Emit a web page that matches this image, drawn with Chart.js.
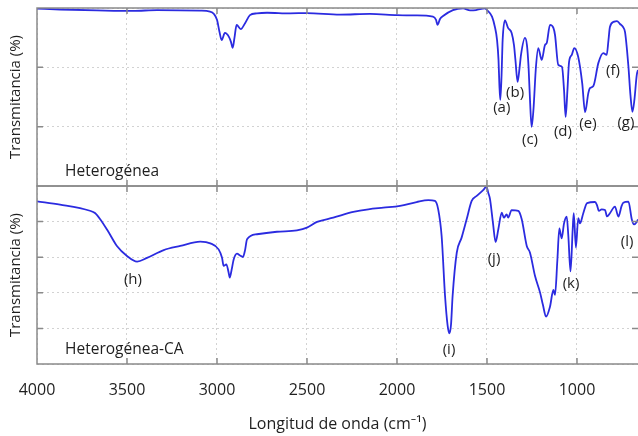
<!DOCTYPE html>
<html>
<head>
<meta charset="utf-8">
<script src="https://cdn.jsdelivr.net/npm/chart.js@4.4.0/dist/chart.umd.min.js"></script>
<style>
  html, body { margin: 0; padding: 0; background: #fff; }
  #wrap { width: 638px; height: 436px; }
</style>
</head>
<body>
<div id="wrap"><canvas id="ftirChart" width="638" height="436"></canvas></div>
<script>
// espectro superior (Heterogénea)
const wnTop = [4000, 3872, 3667, 3467, 3333, 3094, 3039, 3017, 3000, 2986, 2974, 2956, 2933, 2922, 2913, 2903, 2891, 2868, 2844, 2817,
  2779, 2722, 2594, 2500, 2317, 2150, 2000, 1900, 1800, 1783, 1775, 1761, 1744, 1689, 1633, 1594, 1561, 1511, 1500, 1472,
  1456, 1444, 1436, 1431, 1426, 1419, 1413, 1400, 1383, 1363, 1350, 1342, 1330, 1319, 1311, 1289, 1278, 1269, 1261, 1252,
  1242, 1228, 1215, 1196, 1178, 1168, 1150, 1131, 1122, 1104, 1083, 1072, 1063, 1053, 1044, 1029, 1015, 993, 971, 955,
  937, 928, 909, 881, 854, 835, 825, 817, 793, 778, 761, 744, 733, 722, 714, 703, 692, 681, 668, 661];
const tTop = [99.8, 99.5, 99.2, 99.0, 99.3, 99.1, 98.8, 98.0, 96.0, 91.9, 89.2, 91.6, 90.2, 88.5, 86.6, 89.9, 94.3, 92.9, 94.9, 97.6,
  98.2, 98.4, 98.2, 98.3, 97.8, 98.0, 97.6, 97.5, 97.1, 96.0, 94.3, 96.3, 97.3, 99.3, 99.9, 99.2, 99.3, 99.9, 99.3, 97.1,
  93.6, 89.2, 82.5, 74.0, 69.0, 77.4, 89.2, 95.8, 93.3, 91.6, 87.5, 82.5, 75.1, 79.8, 84.2, 89.9, 87.5, 80.1, 69.0, 59.9,
  65.6, 80.1, 86.5, 82.5, 87.5, 88.2, 94.3, 93.3, 90.9, 80.8, 80.1, 72.4, 63.3, 72.4, 81.8, 84.2, 86.5, 83.5, 74.7, 64.9,
  71.3, 73.0, 73.7, 81.5, 84.8, 84.2, 89.2, 93.6, 95.4, 95.6, 94.6, 93.6, 91.9, 85.8, 80.1, 70.7, 65.0, 69.0, 77.4, 79.1];

// espectro inferior (Heterogénea-CA)
const wnBot = [4000, 3872, 3706, 3678, 3650, 3606, 3556, 3500, 3444, 3389, 3296, 3204, 3093, 3037, 2991, 2972, 2963, 2948, 2936, 2929,
  2919, 2907, 2889, 2872, 2856, 2844, 2833, 2778, 2667, 2556, 2500, 2444, 2354, 2243, 2159, 2076, 1983, 1891, 1826, 1789,
  1771, 1752, 1733, 1719, 1709, 1700, 1691, 1668, 1641, 1613, 1585, 1557, 1520, 1503, 1493, 1483, 1467, 1452, 1437, 1418,
  1406, 1391, 1382, 1363, 1326, 1307, 1279, 1261, 1233, 1205, 1189, 1172, 1150, 1131, 1122, 1109, 1098, 1085, 1072, 1057,
  1048, 1036, 1024, 1018, 1006, 993, 983, 965, 944, 900, 889, 878, 863, 844, 833, 817, 789, 770, 752, 743,
  714, 696, 683, 668, 661];
const tBot = [91.4, 89.6, 86.1, 84.8, 81.5, 74.7, 66.3, 60.7, 57.5, 59.6, 64.0, 66.3, 68.7, 67.8, 64.4, 59.7, 55.1, 56.0, 51.7, 48.5,
  52.8, 58.8, 62.0, 61.0, 60.1, 64.0, 70.1, 72.9, 74.3, 75.1, 76.6, 79.8, 82.2, 85.4, 86.9, 87.8, 88.8, 91.0, 92.1, 91.6,
  86.9, 71.9, 38.2, 21.9, 17.2, 21.9, 38.2, 62.5, 71.0, 81.3, 91.6, 94.4, 97.8, 99.7, 96.2, 92.5, 79.4, 68.5, 75.7, 85.0,
  82.2, 84.1, 82.2, 86.5, 86.0, 81.3, 66.3, 62.5, 49.4, 40.1, 33.1, 26.6, 32.2, 41.6, 38.8, 58.4, 76.2, 70.6, 79.0, 82.8,
  71.9, 52.0, 75.3, 84.8, 65.4, 82.0, 79.0, 84.7, 90.4, 91.0, 89.3, 86.0, 86.9, 86.5, 82.9, 84.7, 88.4, 82.8, 88.8, 90.6,
  91.2, 81.5, 78.4, 79.8, 81.2];

const xTicks = [4000, 3500, 3000, 2500, 2000, 1500, 1000];
const yTopTicks = [40, 60, 80, 100];
const yBotTicks = [0, 20, 40, 60, 80, 100];

const peakNamesTop = ['(a)', '(b)', '(c)', '(d)', '(e)', '(f)', '(g)'];
const peakWnTop = [1418, 1344, 1261, 1078, 939, 800, 728];
const peakTTop = [66.3, 71.3, 55.5, 58.2, 60.9, 78.8, 61.2];
const peakNamesBot = ['(h)', '(i)', '(j)', '(k)', '(l)'];
const peakWnBot = [3467, 1711, 1461, 1033, 722];
const peakTBot = [47.2, 7.9, 59.0, 44.9, 68.5];

const FONT = "'Open Sans', 'Noto Sans', 'DejaVu Sans', sans-serif";
const TEXT = '#1f1f1f';
const LINE = '#2b2be0';
const GRID = '#d2d2d2';
const FRAME = '#8a8a8a';

Chart.defaults.font.family = FONT;
Chart.defaults.color = TEXT;

const toXY = (xs, ys) => xs.map((x, i) => ({ x: x, y: ys[i] }));

// marcos, ticks hacia adentro y etiquetas de picos
const panelDecor = {
    id: 'panelDecor',
    afterDatasetsDraw(chart) {
        const { ctx } = chart;
        const { x, yTop, yBot } = chart.scales;
        const L = chart.chartArea.left, R = chart.chartArea.right;
        const T = 6;
        ctx.save();
        ctx.strokeStyle = FRAME;
        ctx.lineWidth = 1.5;
        [[yTop, yTopTicks], [yBot, yBotTicks]].forEach(([ys, ticks]) => {
            ctx.beginPath();
            ctx.moveTo(R + 2, ys.top); ctx.lineTo(L, ys.top); ctx.lineTo(L, ys.bottom); ctx.lineTo(R + 2, ys.bottom);
            xTicks.forEach(v => {
                const px = x.getPixelForValue(v);
                if (px <= L + 1) return;
                ctx.moveTo(px, ys.top); ctx.lineTo(px, ys.top + T);
                ctx.moveTo(px, ys.bottom); ctx.lineTo(px, ys.bottom - T);
            });
            ticks.forEach(v => {
                const py = ys.getPixelForValue(v);
                if (py <= ys.top + 1 || py >= ys.bottom - 1) return;
                ctx.moveTo(L, py); ctx.lineTo(L + T, py);
                ctx.moveTo(R, py); ctx.lineTo(R - T, py);
            });
            ctx.stroke();
        });

        ctx.fillStyle = TEXT;
        ctx.font = '15px ' + FONT;
        ctx.textAlign = 'center';
        ctx.textBaseline = 'middle';
        peakNamesTop.forEach((t, i) => ctx.fillText(t, x.getPixelForValue(peakWnTop[i]), yTop.getPixelForValue(peakTTop[i])));
        peakNamesBot.forEach((t, i) => ctx.fillText(t, x.getPixelForValue(peakWnBot[i]), yBot.getPixelForValue(peakTBot[i])));

        ctx.textAlign = 'left';
        ctx.font = '15.5px ' + FONT;
        ctx.fillText('Heterogénea', x.getPixelForValue(3844), yTop.getPixelForValue(44.7));
        ctx.fillText('Heterogénea-CA', x.getPixelForValue(3844), yBot.getPixelForValue(7.9));
        ctx.restore();
    }
};

const yAxis = (ticks, min, max, weight) => ({
    type: 'linear', position: 'left', stack: 'ftir', stackWeight: 1, weight: weight,
    min: min, max: max,
    afterBuildTicks: s => { s.ticks = ticks.map(v => ({ value: v })); },
    afterFit: s => { s.width = 37; },
    ticks: { display: false },
    grid: { color: GRID, lineWidth: 1, drawTicks: false },
    border: { display: false, dash: [2, 3] },
    title: { display: true, text: 'Transmitancia (%)', font: { size: 15 }, color: TEXT, padding: { top: 7, bottom: 0 } }
});

new Chart(document.getElementById('ftirChart'), {
    type: 'line',
    data: {
        datasets: [
            { label: 'Heterogénea', data: toXY(wnTop, tTop), yAxisID: 'yTop', borderColor: LINE, borderWidth: 1.8,
              pointRadius: 0, cubicInterpolationMode: 'monotone', fill: false },
            { label: 'Heterogénea-CA', data: toXY(wnBot, tBot), yAxisID: 'yBot', borderColor: LINE, borderWidth: 1.8,
              pointRadius: 0, cubicInterpolationMode: 'monotone', fill: false }
        ]
    },
    options: {
        responsive: false,
        animation: false,
        devicePixelRatio: 1,
        layout: { padding: { top: 8, right: 0, left: 0, bottom: 0 } },
        plugins: { legend: { display: false }, tooltip: { enabled: false } },
        scales: {
            x: {
                type: 'linear', reverse: true, min: 661, max: 4000,
                afterBuildTicks: s => { s.ticks = xTicks.map(v => ({ value: v })); },
                afterFit: s => { s.height = 72; },
                ticks: { font: { size: 16 }, color: TEXT, padding: 17, maxRotation: 0, callback: v => String(v) },
                grid: { color: GRID, lineWidth: 1, drawTicks: false },
                border: { display: false, dash: [2, 3] },
                title: { display: true, text: 'Longitud de onda (cm⁻¹)', font: { size: 16 }, color: TEXT, padding: { top: 4, bottom: 2 } }
            },
            yTop: yAxis(yTopTicks, 40, 100, 1),
            yBot: yAxis(yBotTicks, 0, 100, 0)
        }
    },
    plugins: [panelDecor]
});
</script>
</body>
</html>
